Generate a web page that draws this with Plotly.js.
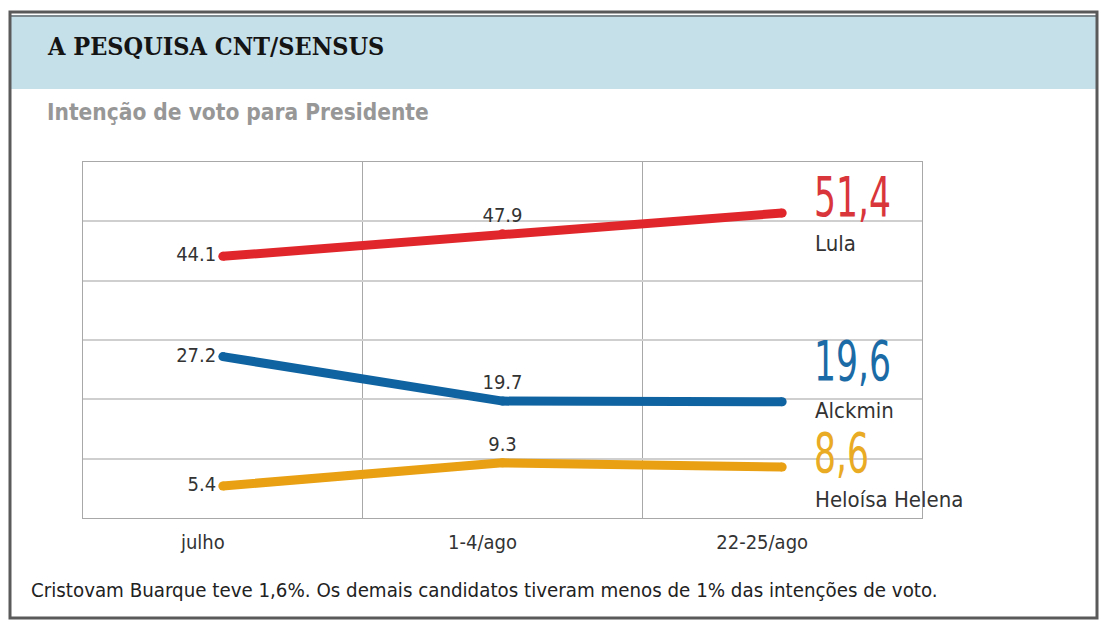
<!DOCTYPE html>
<html>
<head>
<meta charset="utf-8">
<script src="https://cdn.plot.ly/plotly-3.0.1.min.js"></script>
<style>
html,body{margin:0;padding:0;background:#fff;}
#chart{width:1101px;height:623px;}
</style>
</head>
<body>
<div id="chart"></div>
<script>
// ---- data ----
const categories = ["julho", "1-4/ago", "22-25/ago"];
const candidates = ["Lula", "Alckmin", "Heloísa Helena"];
const lula = [44.1, 47.9, 51.4];
const alckmin = [27.2, 19.7, 19.6];
const heloisa = [5.4, 9.3, 8.6];
const yTicks = [0, 10, 20, 30, 40, 50, 60];

const title = "A PESQUISA CNT/SENSUS";
const subtitle = "Intenção de voto para Presidente";
const footnote = "Cristovam Buarque teve 1,6%. Os demais candidatos tiveram menos de 1% das intenções de voto.";

// ---- styles ----
const series = [lula, alckmin, heloisa];
const lineColors = ["#e1262b", "#0f63a1", "#e9a013"];
const bigColors = ["#d9363b", "#1b6ba6", "#eaab24"];
const bigShift = [16, 41, 14];
const nameShift = [-30, -9, -33];

const W = 1101, H = 623;
const L = 83, R = 922, T = 162, B = 518;
const px = x => (x - L) / (R - L);
const py = y => (B - y) / (B - T);

const narrow = "Liberation Sans Narrow, DejaVu Sans Condensed, Arial Narrow, sans-serif";
const xIdx = categories.map((c, i) => i);

const fmtDot = v => v.toFixed(1);
const fmtComma = v => v.toFixed(1).replace(".", ",");

const traces = series.map((vals, s) => ({
  type: "scatter",
  mode: "lines+markers+text",
  x: xIdx,
  y: vals,
  line: {color: lineColors[s], width: 9},
  marker: {color: lineColors[s], size: 9},
  text: vals.map((v, i) => i < vals.length - 1 ? fmtDot(v) : ""),
  textposition: vals.map((v, i) => i === 0 ? "middle left" : "top center"),
  textfont: {family: narrow, size: 20, color: "#333"},
  cliponaxis: false,
  hoverinfo: "skip",
  showlegend: false
}));

const annotations = [];
series.forEach((vals, s) => {
  const last = vals.length - 1;
  annotations.push({
    x: xIdx[last], y: vals[last], xref: "x", yref: "y",
    text: fmtComma(vals[last]), showarrow: false,
    xanchor: "left", yanchor: "middle", xshift: 30, yshift: bigShift[s],
    font: {family: narrow, size: 55, color: bigColors[s]}
  });
  annotations.push({
    x: xIdx[last], y: vals[last], xref: "x", yref: "y",
    text: candidates[s], showarrow: false,
    xanchor: "left", yanchor: "middle", xshift: 31, yshift: nameShift[s],
    font: {family: narrow, size: 22, color: "#333"}
  });
});

annotations.push({
  x: px(45), y: py(47), xref: "paper", yref: "paper",
  text: "<b>" + title + "</b>", showarrow: false,
  xanchor: "left", yanchor: "middle",
  font: {family: "DejaVu Serif Condensed, DejaVu Serif, serif", size: 25, color: "#141414"}
});
annotations.push({
  x: px(45), y: py(112), xref: "paper", yref: "paper",
  text: "<b>" + subtitle + "</b>", showarrow: false,
  xanchor: "left", yanchor: "middle",
  font: {family: "DejaVu Sans Condensed, Open Sans, sans-serif", size: 22.5, color: "#979797"}
});
annotations.push({
  x: px(29), y: py(590), xref: "paper", yref: "paper",
  text: footnote, showarrow: false,
  xanchor: "left", yanchor: "middle",
  font: {family: "DejaVu Sans Condensed, sans-serif", size: 20.3, color: "#222"}
});

const shapes = [
  {type: "rect", xref: "paper", yref: "paper", layer: "below",
   x0: px(11), x1: px(1096), y0: py(16), y1: py(89),
   fillcolor: "#c6e0ea", line: {width: 0}},
  {type: "line", xref: "paper", yref: "paper",
   x0: px(11), x1: px(1096), y0: py(16), y1: py(16),
   line: {color: "#7d8a90", width: 2}},
  {type: "rect", xref: "paper", yref: "paper", layer: "above",
   x0: px(10), x1: px(1097), y0: py(12), y1: py(618),
   fillcolor: "rgba(0,0,0,0)", line: {color: "#5a5a5a", width: 3}}
];

const layout = {
  width: W, height: H,
  margin: {l: L, r: W - R, t: T, b: H - B, pad: 0},
  paper_bgcolor: "#ffffff",
  plot_bgcolor: "#ffffff",
  showlegend: false,
  xaxis: {
    range: [-0.5, 2.5],
    tickmode: "array",
    tickvals: xIdx,
    ticktext: categories,
    ticks: "",
    showgrid: false,
    zeroline: false,
    showline: true, mirror: true, linecolor: "#a8a8a8", linewidth: 1,
    tickfont: {family: narrow, size: 20, color: "#333"},
    ticklabelshift: -20,
    ticklabelstandoff: 6,
    minor: {tickmode: "array", tickvals: [-0.5, 0.5, 1.5, 2.5], showgrid: true,
            gridcolor: "#a8a8a8", gridwidth: 1, ticks: ""},
    fixedrange: true
  },
  yaxis: {
    range: [yTicks[0], yTicks[yTicks.length - 1]],
    tickmode: "array",
    tickvals: yTicks,
    showticklabels: false,
    ticks: "",
    showgrid: true, gridcolor: "#cfcfcf", gridwidth: 2,
    zeroline: false,
    showline: true, mirror: true, linecolor: "#a8a8a8", linewidth: 1,
    fixedrange: true
  },
  annotations: annotations,
  shapes: shapes
};

Plotly.newPlot("chart", traces, layout, {displayModeBar: false, staticPlot: true}).then(gd => {
  // condense the large end-value numbers horizontally (real text kept)
  const bigTexts = series.map(v => fmtComma(v[v.length - 1]));
  gd.querySelectorAll(".annotation-text").forEach(t => {
    if (bigTexts.indexOf(t.textContent) >= 0) {
      const bb = t.getBBox();
      t.setAttribute("transform",
        `translate(${bb.x},0) scale(0.7,1) translate(${-bb.x},0)`);
    }
  });
});
</script>
</body>
</html>
